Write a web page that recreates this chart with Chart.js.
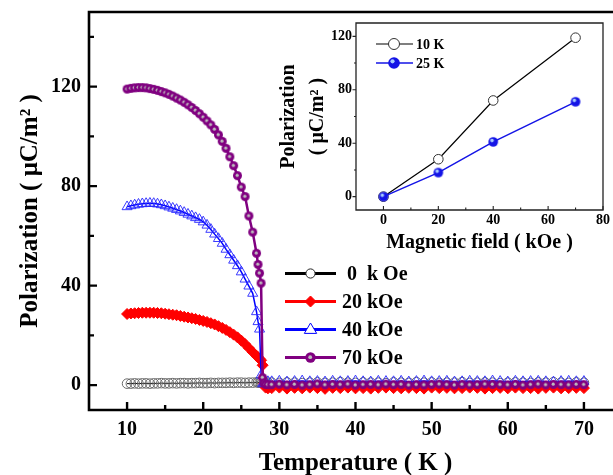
<!DOCTYPE html>
<html>
<head>
<meta charset="utf-8">
<title>Polarization vs Temperature</title>
<script src="https://cdn.jsdelivr.net/npm/chart.js@4.4.1/dist/chart.umd.min.js"></script>
<style>
  html, body { margin: 0; padding: 0; background: #fff; }
  body { width: 613px; height: 475px; overflow: hidden; position: relative; }
  #mainChart { position: absolute; left: 0; top: 0; }
  #insetChart { position: absolute; left: 270px; top: 10px; }
</style>
</head>
<body>
<canvas id="mainChart" width="630" height="475"></canvas>
<canvas id="insetChart" width="343" height="250"></canvas>
<script>
(function () {
  "use strict";

  const FONT = "'Liberation Serif', 'Times New Roman', serif";

  /* ---------------------------------------------------------------
   * Main panel data: polarization (uC/m2) vs temperature (K)
   * --------------------------------------------------------------- */
  const TEMPS = [
    10, 10.5, 11, 11.5, 12, 12.5, 13, 13.5, 14, 14.5,
    15, 15.5, 16, 16.5, 17, 17.5, 18, 18.5, 19, 19.5,
    20, 20.5, 21, 21.5, 22, 22.5, 23, 23.5, 24, 24.5,
    25, 25.5, 26, 26.5, 27, 27.2, 27.4, 27.6, 27.8, 28,
    28.2, 28.5, 29, 30, 31, 32, 33, 34, 35, 36,
    37, 38, 39, 40, 41, 42, 43, 44, 45, 46,
    47, 48, 49, 50, 51, 52, 53, 54, 55, 56,
    57, 58, 59, 60, 61, 62, 63, 64, 65, 66,
    67, 68, 69, 70
  ];

  const P_0KOE = [
    0.6, 0.6, 0.7, 0.6, 0.7, 0.7, 0.6, 0.7, 0.7, 0.8,
    0.7, 0.7, 0.8, 0.7, 0.8, 0.8, 0.7, 0.8, 0.8, 0.9,
    0.8, 0.8, 0.9, 0.8, 0.9, 0.9, 0.9, 1.0, 0.9, 1.0,
    1.0, 0.9, 1.0, 1.0, 1.1, 1.1, 1.0, 1.1, 1.0, 1.0,
    0.9, 1.0, 1.0, 0.9, 1.1, 1.0, 0.8, 1.0, 1.1, 0.9,
    1.0, 1.2, 1.0, 0.9, 1.1, 1.0, 1.0, 0.8, 1.1, 1.0,
    0.9, 1.2, 1.0, 1.1, 0.9, 1.0, 1.0, 1.2, 0.9, 1.0,
    1.1, 1.0, 0.8, 1.0, 1.1, 1.0, 0.9, 1.1, 1.0, 1.2,
    1.0, 0.9, 1.1, 1.0
  ];

  const P_20KOE = [
    28.6, 28.8, 28.9, 29.0, 29.1, 29.1, 29.1, 29.1, 29.0, 28.9,
    28.7, 28.5, 28.3, 28.1, 27.8, 27.5, 27.2, 26.9, 26.6, 26.2,
    25.8, 25.4, 24.9, 24.4, 23.7, 23.0, 22.2, 21.3, 20.3, 19.2,
    17.9, 16.5, 14.9, 13.3, 11.8, 11.2, 10.6, 10.0, 8.0, 0.5,
    -1.0, -1.3, -1.2, -1.0, -1.4, -1.1, -1.3, -1.0, -1.2, -1.5,
    -1.1, -1.2, -1.0, -1.3, -1.2, -1.4, -1.1, -1.0, -1.2, -1.3,
    -1.1, -1.2, -1.4, -1.0, -1.2, -1.1, -1.3, -1.2, -1.0, -1.1,
    -1.4, -1.2, -1.1, -1.3, -1.0, -1.2, -1.2, -1.4, -1.1, -1.0,
    -1.3, -1.2, -1.1, -1.2
  ];

  const P_40KOE = [
    71.7, 72.1, 72.4, 72.7, 72.9, 73.0, 73.1, 73.0, 72.8, 72.5,
    72.1, 71.6, 71.1, 70.6, 70.0, 69.4, 68.7, 68.0, 67.3, 66.6,
    65.6, 64.3, 62.6, 60.7, 58.9, 57.0, 54.6, 52.4, 50.2, 48.0,
    45.5, 42.6, 39.8, 36.9, 29.5, 25.5, 22.5, 4.0, 0.5, 0.8,
    1.2, 1.4, 1.4, 1.6, 1.3, 1.5, 1.7, 1.4, 1.5, 1.3,
    1.6, 1.4, 1.5, 1.7, 1.4, 1.3, 1.6, 1.5, 1.4, 1.6,
    1.3, 1.5, 1.7, 1.4, 1.5, 1.6, 1.3, 1.4, 1.6, 1.5,
    1.4, 1.7, 1.5, 1.3, 1.6, 1.4, 1.5, 1.6, 1.4, 1.3,
    1.5, 1.6, 1.4, 1.5
  ];

  const P_70KOE = [
    119.0, 119.3, 119.5, 119.6, 119.6, 119.5, 119.2, 118.9, 118.5, 118.0,
    117.5, 116.9, 116.2, 115.4, 114.6, 113.7, 112.7, 111.6, 110.4, 109.1,
    107.7, 106.2, 104.6, 102.8, 100.6, 98.0, 95.2, 91.8, 88.2, 84.2,
    79.6, 75.8, 68.0, 61.5, 53.0, 48.5, 45.0, 41.0, 3.0, 0.8,
    0.3, 0.2, 0.2, 0.4, 0.1, 0.3, 0.0, 0.2, 0.5, 0.1,
    0.3, 0.2, 0.4, 0.0, 0.2, 0.3, 0.1, 0.4, 0.2, 0.3,
    0.0, 0.2, 0.1, 0.3, 0.4, 0.2, 0.0, 0.3, 0.1, 0.2,
    0.4, 0.3, 0.2, 0.1, 0.3, 0.0, 0.2, 0.4, 0.1, 0.3,
    0.2, 0.1, 0.3, 0.2
  ];

  const SERIES_LABELS = ["0  k Oe", "20 kOe", "40 kOe", "70 kOe"];

  const X_TICKS = [10, 20, 30, 40, 50, 60, 70];
  const X_MINOR = [15, 25, 35, 45, 55, 65];
  const Y_TICKS = [0, 40, 80, 120];
  const Y_MINOR = [20, 60, 100, 140];

  /* ---------------------------------------------------------------
   * Inset data: polarization vs magnetic field
   * --------------------------------------------------------------- */
  const FIELD = [0, 20, 40, 70];
  const P_10K = [0, 28, 72, 119];
  const P_25K = [0, 18, 41, 71];
  const INSET_LABELS = ["10 K", "25 K"];

  const INSET_X_TICKS = [0, 20, 40, 60, 80];
  const INSET_X_MINOR = [10, 30, 50, 70];
  const INSET_Y_TICKS = [0, 40, 80, 120];
  const INSET_Y_MINOR = [20, 60, 100];

  /* ---------------------------------------------------------------
   * Helpers
   * --------------------------------------------------------------- */
  const pts = (xs, ys) => xs.map((x, i) => ({ x: x, y: ys[i] }));
  const font = (size, lh) => ({ family: FONT, size: size, weight: "bold", lineHeight: lh || 1.2 });

  // keep the plot box where the layout padding puts it (no label overhang padding)
  const fixBox = (prop, val) => (s) => {
    s[prop] = val;
    s.paddingTop = 0; s.paddingBottom = 0;
    s.paddingLeft = 0; s.paddingRight = 0;
  };

  // shaded "ball" marker: filled disc with a small light highlight
  function ballSprite(r, fill, hi, hiR, dx, dy) {
    const size = Math.ceil(r * 2 + 2);
    const c = document.createElement("canvas");
    c.width = c.height = size;
    const g = c.getContext("2d");
    g.fillStyle = fill;
    g.beginPath();
    g.arc(size / 2, size / 2, r, 0, Math.PI * 2);
    g.fill();
    g.fillStyle = hi;
    g.beginPath();
    g.arc(size / 2 + dx, size / 2 + dy, hiR, 0, Math.PI * 2);
    g.fill();
    return c;
  }

  const PURPLE_BALL = ballSprite(4.5, "#800080", "#bdbdbd", 1.6, -0.3, -0.3);
  const PURPLE_BALL_BIG = ballSprite(5.2, "#800080", "#bdbdbd", 1.9, -0.3, -0.3);
  const BLUE_BALL = ballSprite(4.8, "#1414e6", "#a8ccff", 1.8, -1.2, -1.4);
  const BLUE_BALL_BIG = ballSprite(5.8, "#1414e6", "#a8ccff", 2.1, -1.5, -1.7);

  function drawMarker(ctx, m, x, y) {
    ctx.save();
    if (m.type === "sprite") {
      ctx.drawImage(m.img, x - m.img.width / 2, y - m.img.height / 2);
    } else {
      ctx.beginPath();
      if (m.type === "circle") {
        ctx.arc(x, y, m.r, 0, Math.PI * 2);
      } else if (m.type === "diamond") {
        ctx.moveTo(x, y - m.r); ctx.lineTo(x + m.r, y);
        ctx.lineTo(x, y + m.r); ctx.lineTo(x - m.r, y);
        ctx.closePath();
      } else if (m.type === "triangle") {
        ctx.moveTo(x, y - m.r);
        ctx.lineTo(x + m.r * 0.95, y + m.r * 0.6);
        ctx.lineTo(x - m.r * 0.95, y + m.r * 0.6);
        ctx.closePath();
      }
      ctx.fillStyle = m.fill;
      ctx.fill();
      ctx.lineWidth = m.lw;
      ctx.strokeStyle = m.stroke;
      ctx.stroke();
    }
    ctx.restore();
  }

  // frame + inward/outward tick marks, positioned with the chart's own scales
  function framePlugin(id, cfg) {
    return {
      id: id,
      afterDatasetsDraw(chart) {
        const { ctx, chartArea: a, scales: { x, y } } = chart;
        ctx.save();
        ctx.strokeStyle = cfg.color;
        ctx.lineWidth = cfg.width;
        ctx.lineCap = "square";
        ctx.beginPath();
        ctx.moveTo(a.right, a.top);
        ctx.lineTo(a.left, a.top);
        ctx.lineTo(a.left, a.bottom);
        ctx.lineTo(a.right, a.bottom);
        if (cfg.closed) ctx.lineTo(a.right, a.top);
        ctx.stroke();

        ctx.lineCap = "butt";
        ctx.lineWidth = cfg.tickWidth;
        ctx.beginPath();
        const xt = (vals, len) => vals.forEach((v) => {
          const px = x.getPixelForValue(v);
          ctx.moveTo(px, a.bottom);
          ctx.lineTo(px, a.bottom - len);
        });
        const yt = (vals, len) => vals.forEach((v) => {
          const py = y.getPixelForValue(v);
          ctx.moveTo(a.left, py);
          ctx.lineTo(a.left + len, py);
        });
        xt(cfg.xMajor, cfg.xMajorLen);
        xt(cfg.xMinor, cfg.xMinorLen);
        yt(cfg.yMajor, cfg.yMajorLen);
        yt(cfg.yMinor, cfg.yMinorLen);
        ctx.stroke();
        ctx.restore();
      }
    };
  }

  function legendPlugin(id, items, box) {
    return {
      id: id,
      afterDraw(chart) {
        const ctx = chart.ctx;
        ctx.save();
        ctx.font = "bold " + box.fontSize + "px " + FONT;
        ctx.textBaseline = "middle";
        items.forEach((it, i) => {
          const y = box.top + i * box.rowGap;
          ctx.strokeStyle = it.color;
          ctx.lineWidth = it.lineWidth;
          ctx.beginPath();
          ctx.moveTo(box.x0, y);
          ctx.lineTo(box.x1, y);
          ctx.stroke();
          drawMarker(ctx, it.marker, box.mx, y);
          ctx.fillStyle = "#000";
          ctx.fillText(it.label, box.textX + (it.dx || 0), y + 1);
        });
        ctx.restore();
      }
    };
  }

  /* ---------------------------------------------------------------
   * Main chart
   * --------------------------------------------------------------- */
  Chart.defaults.color = "#000";
  Chart.defaults.font.family = FONT;

  const mainLegend = legendPlugin("mainLegend", [
    { label: SERIES_LABELS[0], color: "#000", lineWidth: 3, dx: 5,
      marker: { type: "circle", r: 4.6, fill: "#fff", stroke: "#222", lw: 1 } },
    { label: SERIES_LABELS[1], color: "#ff0000", lineWidth: 3,
      marker: { type: "diamond", r: 5.5, fill: "#ff0000", stroke: "#ff0000", lw: 1 } },
    { label: SERIES_LABELS[2], color: "#0000ff", lineWidth: 3,
      marker: { type: "triangle", r: 6.5, fill: "#fff", stroke: "#0000ff", lw: 1 } },
    { label: SERIES_LABELS[3], color: "#800080", lineWidth: 3,
      marker: { type: "sprite", img: PURPLE_BALL_BIG } }
  ], { x0: 285, x1: 336, mx: 310.5, textX: 342, top: 273.5, rowGap: 28, fontSize: 20 });

  new Chart(document.getElementById("mainChart"), {
    type: "scatter",
    data: {
      datasets: [
        {
          label: SERIES_LABELS[0],
          data: pts(TEMPS, P_0KOE),
          showLine: true,
          borderColor: "#000",
          borderWidth: 1,
          pointStyle: "circle",
          pointRadius: 4.8,
          pointBackgroundColor: "rgba(255,255,255,0)",
          pointBorderColor: "#6a6a6a",
          pointBorderWidth: 1,
          order: 3
        },
        {
          label: SERIES_LABELS[1],
          data: pts(TEMPS, P_20KOE),
          showLine: true,
          borderColor: "#ff0000",
          borderWidth: 1.5,
          pointStyle: "rectRot",
          pointRadius: 5.5,
          pointBackgroundColor: "#ff0000",
          pointBorderColor: "#ff0000",
          pointBorderWidth: 1,
          order: 2
        },
        {
          label: SERIES_LABELS[2],
          data: pts(TEMPS, P_40KOE),
          showLine: true,
          borderColor: "#0000ff",
          borderWidth: 1.5,
          pointStyle: "triangle",
          pointRadius: 5.8,
          pointBackgroundColor: "rgba(255,255,255,0)",
          pointBorderColor: "#2626ff",
          pointBorderWidth: 0.9,
          order: 1
        },
        {
          label: SERIES_LABELS[3],
          data: pts(TEMPS, P_70KOE),
          showLine: true,
          borderColor: "#800080",
          borderWidth: 2.5,
          pointStyle: PURPLE_BALL,
          pointRadius: 4.5,
          order: 0
        }
      ]
    },
    options: {
      responsive: false,
      animation: false,
      layout: { padding: { top: 12, right: 8, left: 0, bottom: 0 } },
      plugins: { legend: { display: false }, tooltip: { enabled: false } },
      scales: {
        x: {
          type: "linear",
          min: 5,
          max: 75,
          afterBuildTicks: (s) => { s.ticks = X_TICKS.map((v) => ({ value: v })); },
          afterFit: fixBox("height", 65),
          grid: { display: false, drawTicks: false },
          border: { display: false },
          ticks: { font: font(20), color: "#000", padding: 8, autoSkip: false, maxRotation: 0 },
          title: {
            display: true,
            text: "Temperature ( K )",
            font: font(25, 0.9),
            color: "#000",
            padding: { top: 0, bottom: 0 }
          }
        },
        y: {
          min: -10,
          max: 150,
          afterBuildTicks: (s) => { s.ticks = Y_TICKS.map((v) => ({ value: v })); },
          afterFit: fixBox("width", 89),
          grid: { display: false, drawTicks: false },
          border: { display: false },
          ticks: { font: font(20), color: "#000", padding: 8, autoSkip: false },
          title: {
            display: true,
            text: "Polarization ( μC/m² )",
            font: font(25),
            color: "#000",
            padding: { top: 16, bottom: 0 }
          }
        }
      }
    },
    plugins: [
      framePlugin("mainFrame", {
        color: "#000", width: 2.6, tickWidth: 2.4, closed: true,
        xMajor: X_TICKS, xMinor: X_MINOR, xMajorLen: 8, xMinorLen: 5,
        yMajor: Y_TICKS, yMinor: Y_MINOR, yMajorLen: 8, yMinorLen: 5
      }),
      mainLegend
    ]
  });

  /* ---------------------------------------------------------------
   * Inset chart
   * --------------------------------------------------------------- */
  const insetLegend = legendPlugin("insetLegend", [
    { label: INSET_LABELS[0], color: "#000", lineWidth: 1.2,
      marker: { type: "circle", r: 5.5, fill: "#fff", stroke: "#333", lw: 1 } },
    { label: INSET_LABELS[1], color: "#1414e6", lineWidth: 1.5,
      marker: { type: "sprite", img: BLUE_BALL_BIG } }
  ], { x0: 106, x1: 143, mx: 124, textX: 146, top: 34, rowGap: 19, fontSize: 14 });

  new Chart(document.getElementById("insetChart"), {
    type: "scatter",
    data: {
      datasets: [
        {
          label: INSET_LABELS[0],
          data: pts(FIELD, P_10K),
          showLine: true,
          borderColor: "#000",
          borderWidth: 1.2,
          pointStyle: "circle",
          pointRadius: 4.8,
          pointBackgroundColor: "#fff",
          pointBorderColor: "#333",
          pointBorderWidth: 1,
          order: 1
        },
        {
          label: INSET_LABELS[1],
          data: pts(FIELD, P_25K),
          showLine: true,
          borderColor: "#1414e6",
          borderWidth: 1.5,
          pointStyle: BLUE_BALL,
          pointRadius: 5,
          order: 0
        }
      ]
    },
    options: {
      responsive: false,
      animation: false,
      layout: { padding: { top: 13, right: 10, left: 0, bottom: 0 } },
      plugins: { legend: { display: false }, tooltip: { enabled: false } },
      scales: {
        x: {
          type: "linear",
          min: -10,
          max: 80,
          afterBuildTicks: (s) => { s.ticks = INSET_X_TICKS.map((v) => ({ value: v })); },
          afterFit: fixBox("height", 50),
          grid: { display: false, drawTicks: false },
          border: { display: false },
          ticks: { font: font(14), color: "#000", padding: 2, autoSkip: false, maxRotation: 0 },
          title: {
            display: true,
            text: "Magnetic field ( kOe )",
            font: font(20),
            color: "#000",
            padding: { top: 0, bottom: 5 }
          }
        },
        y: {
          min: -10,
          max: 130,
          afterBuildTicks: (s) => { s.ticks = INSET_Y_TICKS.map((v) => ({ value: v })); },
          afterFit: fixBox("width", 86),
          grid: { display: false, drawTicks: false },
          border: { display: false },
          ticks: { font: font(14), color: "#000", padding: 4, autoSkip: false },
          title: {
            display: true,
            text: ["Polarization", "( μC/m² )"],
            font: font(20, 1.45),
            color: "#000",
            padding: { top: 4.5, bottom: 0 }
          }
        }
      }
    },
    plugins: [
      framePlugin("insetFrame", {
        color: "#222", width: 1.3, tickWidth: 1.1, closed: true,
        xMajor: INSET_X_TICKS, xMinor: INSET_X_MINOR, xMajorLen: 4, xMinorLen: 2.5,
        yMajor: INSET_Y_TICKS, yMinor: INSET_Y_MINOR, yMajorLen: -3.5, yMinorLen: -2
      }),
      insetLegend
    ]
  });
})();
</script>
</body>
</html>
